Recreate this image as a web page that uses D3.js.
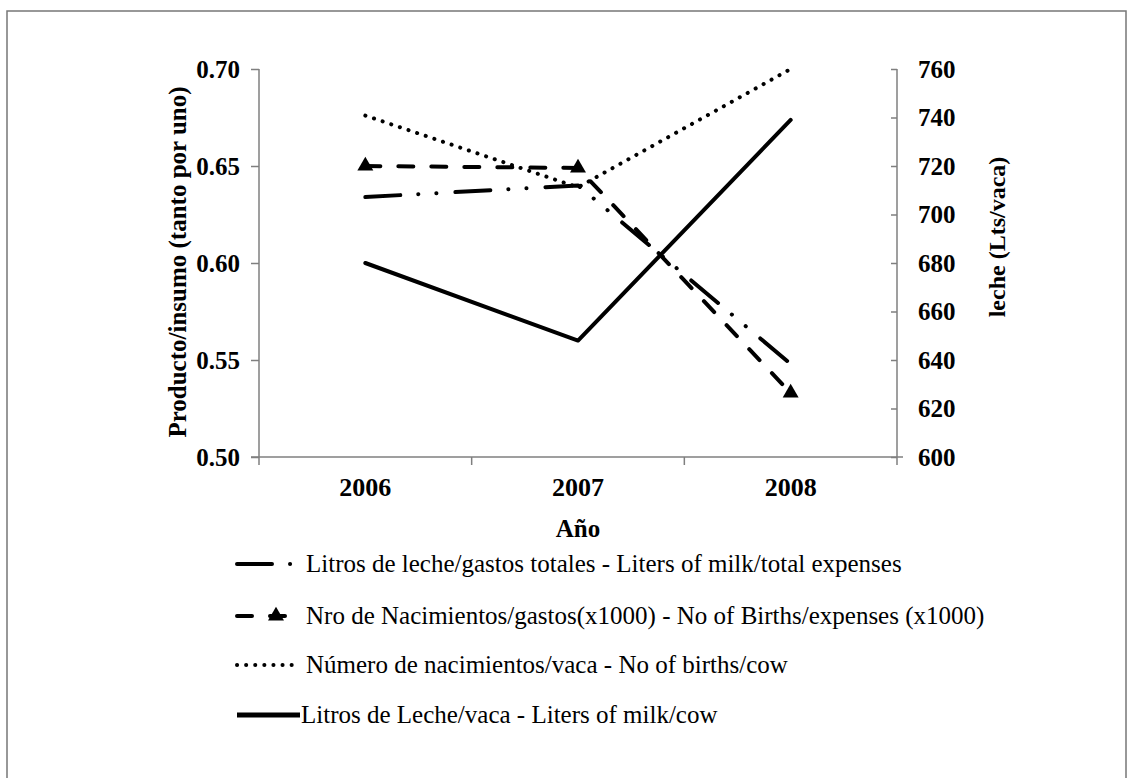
<!DOCTYPE html>
<html>
<head>
<meta charset="utf-8">
<script src="https://cdn.jsdelivr.net/npm/d3@7"></script>
<style>
  body { margin: 0; background: #fff; }
  text { font-family: "Liberation Serif", "Times New Roman", serif; fill: #000; }
</style>
</head>
<body>
<svg id="chart" width="1130" height="778"></svg>
<script>
var years = ["2006", "2007", "2008"]
var milkPerExpense = [0.634, 0.640, 0.548]     // dash-dot, left axis
var birthsPerExpense = [0.650, 0.649, 0.533]   // dashed + triangles, left axis
var birthsPerCow = [0.676, 0.639, 0.700]       // dotted, left axis
var milkPerCow = [680, 648, 739]               // solid, right axis
var leftTicks = [0.50, 0.55, 0.60, 0.65, 0.70]
var rightTicks = [600, 620, 640, 660, 680, 700, 720, 740, 760]
var legendLabels = [
  "Litros de leche/gastos totales - Liters of milk/total expenses",
  "Nro de Nacimientos/gastos(x1000) - No of Births/expenses (x1000)",
  "Número de nacimientos/vaca - No of births/cow",
  "Litros de Leche/vaca - Liters of milk/cow"
]

var svg = d3.select("#chart")
var axisColor = "#7f7f7f"
var serif = "Liberation Serif"

// outer frame (open at the bottom)
svg.append("path")
  .attr("d", "M7,790 L7,11 L1126,11 L1126,790")
  .attr("fill", "none")
  .attr("stroke", "#777")
  .attr("stroke-width", 1.5)

var x = d3.scaleBand().domain(years).range([259, 897])
var yL = d3.scaleLinear().domain([0.5, 0.7]).range([457, 69])
var yR = d3.scaleLinear().domain([600, 760]).range([457, 69])
var cx = d => x(d) + x.bandwidth() / 2

// left axis
var gL = svg.append("g").attr("transform", "translate(259,0)")
  .call(d3.axisLeft(yL).tickValues(leftTicks).tickFormat(d3.format(".2f")).tickSize(8).tickPadding(11))
gL.select(".domain").remove()
gL.selectAll("line").attr("stroke", axisColor).attr("stroke-width", 1.5)
gL.selectAll("text").attr("font-size", 25).attr("font-weight", "bold")
  .attr("font-family", serif).attr("fill", "#000")
gL.append("line").attr("y1", 69).attr("y2", 465).attr("stroke", axisColor).attr("stroke-width", 1.5)

// right axis
var gR = svg.append("g").attr("transform", "translate(897,0)")
  .call(d3.axisRight(yR).tickValues(rightTicks).tickSize(-6).tickPadding(21))
gR.select(".domain").remove()
gR.selectAll("line").attr("stroke", axisColor).attr("stroke-width", 1.5)
gR.selectAll("text").attr("font-size", 25).attr("font-weight", "bold")
  .attr("font-family", serif).attr("fill", "#000")
gR.append("line").attr("y1", 69).attr("y2", 465).attr("stroke", axisColor).attr("stroke-width", 1.5)

// x axis
var gX = svg.append("g").attr("transform", "translate(0,457)")
  .call(d3.axisBottom(x).tickSize(0).tickPadding(21))
gX.select(".domain").remove()
gX.selectAll("text").attr("font-size", 26).attr("font-weight", "bold")
  .attr("font-family", serif).attr("fill", "#000")
gX.append("line").attr("x1", 251).attr("x2", 903).attr("stroke", axisColor).attr("stroke-width", 1.5)
gX.selectAll(".bound")
  .data(years.slice(1))
  .enter()
  .append("line")
  .attr("class", "bound")
  .attr("x1", d => x(d)).attr("x2", d => x(d))
  .attr("y1", 0).attr("y2", 8)
  .attr("stroke", axisColor).attr("stroke-width", 1.5)

// axis titles
svg.append("text")
  .attr("x", 578).attr("y", 537)
  .attr("text-anchor", "middle")
  .attr("font-family", serif)
  .attr("font-size", 25).attr("font-weight", "bold")
  .text("Año")

svg.append("text")
  .attr("transform", "translate(186,262) rotate(-90)")
  .attr("text-anchor", "middle")
  .attr("font-family", serif)
  .attr("font-size", 25).attr("font-weight", "bold")
  .text("Producto/insumo (tanto por uno)")

svg.append("text")
  .attr("transform", "translate(1005,237) rotate(-90)")
  .attr("text-anchor", "middle")
  .attr("font-family", serif)
  .attr("font-size", 24).attr("font-weight", "bold")
  .text("leche (Lts/vaca)")

// series styles
var styles = [
  { dash: "35 18 0.1 18 0.1 19", width: 4 },
  { dash: "15 18", width: 4 },
  { dash: "0.1 9", width: 4 },
  { dash: null, width: 4 }
]

function drawSeries(values, scale, st) {
  var line = d3.line()
    .x((d, i) => cx(years[i]))
    .y(d => scale(d))
  svg.append("path")
    .datum(values)
    .attr("d", line)
    .attr("fill", "none")
    .attr("stroke", "#000")
    .attr("stroke-width", st.width)
    .attr("stroke-linecap", "round")
    .attr("stroke-linejoin", "round")
    .attr("stroke-dasharray", st.dash)
}

drawSeries(milkPerCow, yR, styles[3])
drawSeries(birthsPerCow, yL, styles[2])
drawSeries(milkPerExpense, yL, styles[0])
drawSeries(birthsPerExpense, yL, styles[1])

var tri = d3.symbol().type(d3.symbolTriangle).size(110)
svg.selectAll(".tri")
  .data(birthsPerExpense)
  .enter()
  .append("path")
  .attr("class", "tri")
  .attr("d", tri)
  .attr("transform", (d, i) => `translate(${cx(years[i])},${yL(d)})`)
  .attr("fill", "#000")

// legend
var legY = [564, 616, 665, 715]
var legend = svg.append("g")
legendLabels.forEach(function(label, i) {
  var g = legend.append("g").attr("transform", `translate(0,${legY[i]})`)
  g.append("line")
    .attr("x1", 237).attr("x2", i === 3 ? 300 : 293)
    .attr("stroke", "#000")
    .attr("stroke-width", i === 3 ? 5 : styles[i].width)
    .attr("stroke-linecap", i === 3 ? "butt" : "round")
    .attr("stroke-dasharray", styles[i].dash)
  if (i === 1) {
    g.append("path").attr("d", tri).attr("transform", "translate(276,0)").attr("fill", "#000")
  }
  g.append("text")
    .attr("x", i === 3 ? 301 : 306)
    .attr("y", 0)
    .attr("dy", "0.33em")
    .attr("font-family", serif)
    .attr("font-size", 25)
    .text(label)
})
</script>
</body>
</html>
